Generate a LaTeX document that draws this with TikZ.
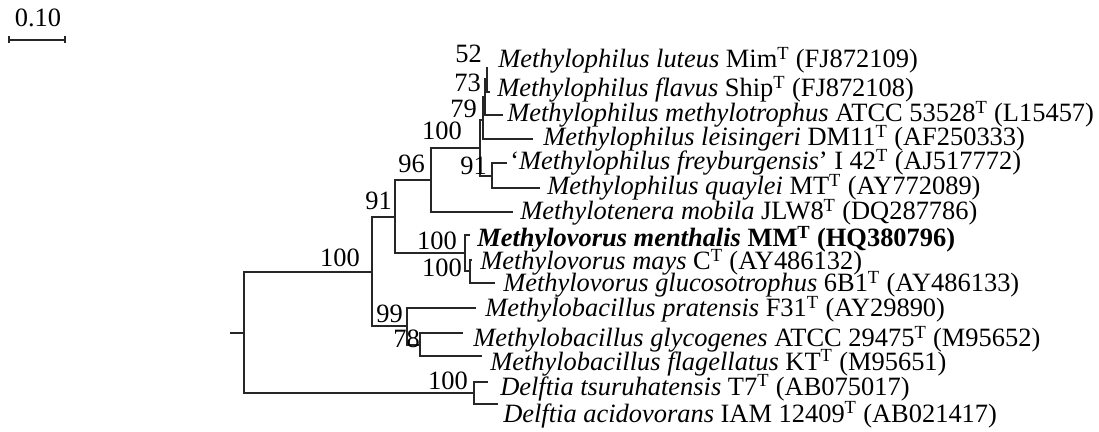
\documentclass[tikz,border=0pt]{standalone}
\usepackage{fontspec}
\setmainfont{Liberation Serif}

\tikzset{
	branch/.style={line width=0.8pt, black!85},
	taxon/.style={anchor=base west, inner sep=0pt, font=\fontsize{18.8}{20}\selectfont},
	boot/.style={anchor=base east, inner sep=0pt, font=\fontsize{18.8}{20}\selectfont},
}

\begin{document}
\begin{tikzpicture}[x=0.025cm, y=-0.025cm]

\useasboundingbox (0,0) rectangle (1099,432);


% scale bar
\coordinate (s0) at (9,40);
\coordinate (s1) at (65,40);
\draw[branch] (s0) -- (s1);
\draw[branch] (9,36.5) -- (9,43.5);
\draw[branch] (65,36.5) -- (65,43.5);
\node[taxon, anchor=base] (scale) at (38,27) {0.10};


% internal nodes
\coordinate (root) at (230,333);
\coordinate (R)    at (244,333);
\coordinate (A)    at (372,272);
\coordinate (B)    at (395,217);
\coordinate (E)    at (431,180);
\coordinate (F)    at (480,148);
\coordinate (N79)  at (483,120);
\coordinate (N73)  at (485,97);
\coordinate (N52)  at (487,79);
\coordinate (G)    at (492,176);
\coordinate (C)    at (465,253);
\coordinate (D)    at (470,271);
\coordinate (P99)  at (407,326);
\coordinate (N78)  at (420,345);
\coordinate (Del)  at (474,393);


% tips
\coordinate (tLut) at (487,67);
\coordinate (tFla) at (490,92);
\coordinate (tMet) at (503,115);
\coordinate (tLei) at (533,139);
\coordinate (tFre) at (507,163);
\coordinate (tQua) at (540,188);
\coordinate (tMob) at (513,212);
\coordinate (tMen) at (470,235);
\coordinate (tMay) at (472,260);
\coordinate (tGlu) at (495,283);
\coordinate (tPra) at (476,308);
\coordinate (tGly) at (463,333);
\coordinate (tFlg) at (482,356);
\coordinate (tTsu) at (488,382);
\coordinate (tAci) at (498,404);


\draw[branch] (root) -- (R);

\foreach \p/\c in {R/A, R/Del, A/B, A/P99, B/E, B/C, E/F, E/tMob, F/N79, F/G,
	N79/N73, N79/tLei, N73/N52, N73/tMet, N52/tLut, N52/tFla, G/tFre, G/tQua,
	C/tMen, C/D, D/tMay, D/tGlu, P99/tPra, P99/N78, N78/tGly, N78/tFlg,
	Del/tTsu, Del/tAci}
{
	\draw[branch] (\p) |- (\c);
}


% bootstrap values
\node[boot] (b52)  at (482,63)  {52};
\node[boot] (b73)  at (481,92)  {73};
\node[boot] (b79)  at (477,118) {79};
\node[boot] (bF)   at (462,140) {100};
\node[boot] (b96)  at (425,173) {96};
\node[boot] (b91)  at (392,210) {91};
\node[boot] (bG)   at (487,175) {91};
\node[boot] (bA)   at (360,267) {100};
\node[boot] (bC)   at (457,250) {100};
\node[boot] (bD)   at (462,277) {100};
\node[boot] (b99)  at (403,323) {99};
\node[boot] (b78)  at (420,348) {78};
\node[boot] (bDel) at (468,390) {100};


% taxa
\node[taxon] (lut) at (498,68)  {\textit{Methylophilus luteus} Mim\textsuperscript{T} (FJ872109)};
\node[taxon] (fla) at (497,97)  {\textit{Methylophilus flavus} Ship\textsuperscript{T} (FJ872108)};
\node[taxon] (met) at (507,122) {\textit{Methylophilus methylotrophus} ATCC 53528\textsuperscript{T} (L15457)};
\node[taxon] (lei) at (543,146) {\textit{Methylophilus leisingeri} DM11\textsuperscript{T} (AF250333)};
\node[taxon] (fre) at (510,170) {‘\textit{Methylophilus freyburgensis}’ I 42\textsuperscript{T} (AJ517772)};
\node[taxon] (qua) at (547,195) {\textit{Methylophilus quaylei} MT\textsuperscript{T} (AY772089)};
\node[taxon] (mob) at (520,220) {\textit{Methylotenera mobila} JLW8\textsuperscript{T} (DQ287786)};
\node[taxon] (men) at (477,247) {\textbf{\textit{Methylovorus menthalis} MM\textsuperscript{T} (HQ380796)}};
\node[taxon] (may) at (480,270) {\textit{Methylovorus mays} C\textsuperscript{T} (AY486132)};
\node[taxon] (glu) at (503,292) {\textit{Methylovorus glucosotrophus} 6B1\textsuperscript{T} (AY486133)};
\node[taxon] (pra) at (485,317) {\textit{Methylobacillus pratensis} F31\textsuperscript{T} (AY29890)};
\node[taxon] (gly) at (473,347) {\textit{Methylobacillus glycogenes} ATCC 29475\textsuperscript{T} (M95652)};
\node[taxon] (flg) at (490,370) {\textit{Methylobacillus flagellatus} KT\textsuperscript{T} (M95651)};
\node[taxon] (tsu) at (500,395) {\textit{Delftia tsuruhatensis} T7\textsuperscript{T} (AB075017)};
\node[taxon] (aci) at (503,422) {\textit{Delftia acidovorans} IAM 12409\textsuperscript{T} (AB021417)};

\end{tikzpicture}
\end{document}
